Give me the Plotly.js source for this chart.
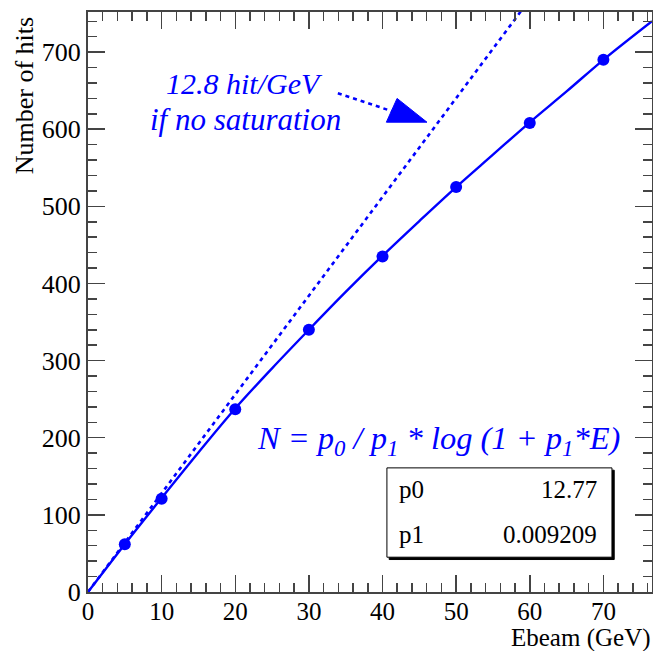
<!DOCTYPE html>
<html>
<head>
<meta charset="utf-8">
<script src="https://cdn.plot.ly/plotly-3.0.1.min.js"></script>
<style>html,body{margin:0;padding:0;background:#fff;}#chart{width:653px;height:651px;}</style>
</head>
<body>
<div id="chart"></div>
<script>
// Measured points
const ebeam = [5, 10, 20, 30, 40, 50, 60, 70];
const hits = [62, 121, 237, 340, 435, 525, 608, 690];
// Fit curve
const fitE = [0, 5, 10, 15, 20, 25, 30, 35, 40, 45, 50, 55, 60, 65, 70, 76.6];
const fitN = [0, 62, 122, 181, 238, 290, 340, 389, 436, 481, 525, 567, 609, 649, 690, 740];
// Dashed no-saturation line (12.8 hit/GeV)
const linE = [0, 58.8];
const linN = [0, 753];
// Fit parameters
const parNames = ["p0", "p1"];
const parValues = ["12.77", "0.009209"];

const blue = "#0000ff";
const serif = "'Liberation Serif', serif";
const axisCol = "#444";

const traces = [
  {x: linE, y: linN, mode: "lines", line: {color: blue, width: 2.6, dash: "4px,4px"}, hoverinfo: "skip"},
  {x: fitE, y: fitN, mode: "lines", line: {color: blue, width: 2.4, shape: "spline"}, hoverinfo: "skip"},
  {x: ebeam, y: hits, mode: "markers", marker: {color: blue, size: 12}}
];

const axisCommon = {
  showgrid: false, zeroline: false, showline: true, linecolor: axisCol, linewidth: 2,
  mirror: "allticks", ticks: "inside", tickcolor: axisCol, tickwidth: 1.5, ticklen: 17,
  tickfont: {family: serif, size: 26, color: "#000"}
};

const layout = {
  width: 653, height: 651,
  margin: {l: 88, r: 1, t: 12, b: 59},
  paper_bgcolor: "#fff", plot_bgcolor: "#fff",
  showlegend: false,
  font: {family: serif},
  xaxis: Object.assign({}, axisCommon, {
    range: [0, 76.6], dtick: 10, tick0: 0, ticklabelstandoff: -4,
    tickfont: {family: serif, size: 25, color: "#000"},
    minor: {dtick: 2, ticklen: 9, tickcolor: axisCol, tickwidth: 1.5, ticks: "inside"}
  }),
  yaxis: Object.assign({}, axisCommon, {
    range: [0, 752], dtick: 100, tick0: 0,
    minor: {dtick: 20, ticklen: 9, tickcolor: axisCol, tickwidth: 1.5, ticks: "inside"}
  }),
  annotations: [
    {xref: "paper", yref: "paper", x: -0.112, y: 0.995, xanchor: "center", yanchor: "top",
     textangle: -90, text: "Number of hits", showarrow: false, font: {family: serif, size: 26, color: "#000"}},
    {xref: "paper", yref: "paper", x: 1.0, y: -0.106, xanchor: "right", yanchor: "bottom", borderpad: 0,
     text: "Ebeam (GeV)", showarrow: false, font: {family: serif, size: 25, color: "#000"}},
    {xref: "paper", yref: "paper", x: 0.277, y: 0.876, xanchor: "center", yanchor: "middle",
     text: "12.8 hit/GeV", showarrow: false, font: {family: serif, size: 30, style: "italic", color: blue}},
    {xref: "paper", yref: "paper", x: 0.279, y: 0.815, xanchor: "center", yanchor: "middle",
     text: "if no saturation", showarrow: false, font: {family: serif, size: 31, style: "italic", color: blue}},
    {xref: "paper", yref: "paper", x: 0.622, y: 0.262, xanchor: "center", yanchor: "middle",
     text: "N = p<sub>0</sub> / p<sub>1</sub> * log (1 + p<sub>1</sub>*E)", showarrow: false,
     font: {family: serif, size: 32.5, style: "italic", color: blue}},
    {xref: "paper", yref: "paper", x: 0.548, y: 0.176, xanchor: "left", yanchor: "middle",
     text: parNames[0], showarrow: false, font: {family: serif, size: 25, color: "#000"}},
    {xref: "paper", yref: "paper", x: 0.548, y: 0.100, xanchor: "left", yanchor: "middle",
     text: parNames[1], showarrow: false, font: {family: serif, size: 25, color: "#000"}},
    {xref: "paper", yref: "paper", x: 0.906, y: 0.176, xanchor: "right", yanchor: "middle",
     text: parValues[0], showarrow: false, font: {family: serif, size: 25, color: "#000"}},
    {xref: "paper", yref: "paper", x: 0.906, y: 0.100, xanchor: "right", yanchor: "middle",
     text: parValues[1], showarrow: false, font: {family: serif, size: 25, color: "#000"}}
  ],
  shapes: [
    // arrow dashed shaft
    {type: "line", xref: "paper", yref: "paper", x0: 0.443, y0: 0.860, x1: 0.548, y1: 0.826,
     line: {color: blue, width: 2.6, dash: "4px,4px"}},
    // arrow head
    {type: "path", xref: "paper", yref: "paper",
     path: "M 0.601 0.810 L 0.548 0.851 L 0.529 0.810 Z",
     fillcolor: blue, line: {color: blue, width: 1}},
    // stats box shadow
    {type: "rect", xref: "paper", yref: "paper", x0: 0.534, y0: 0.056, x1: 0.933, y1: 0.210,
     fillcolor: "#000", line: {color: "#000", width: 1}, layer: "above"},
    // stats box
    {type: "rect", xref: "paper", yref: "paper", x0: 0.530, y0: 0.060, x1: 0.929, y1: 0.214,
     fillcolor: "#fff", line: {color: "#000", width: 1}, layer: "above"}
  ]
};

Plotly.newPlot("chart", traces, layout, {staticPlot: true, displayModeBar: false});
</script>
</body>
</html>
